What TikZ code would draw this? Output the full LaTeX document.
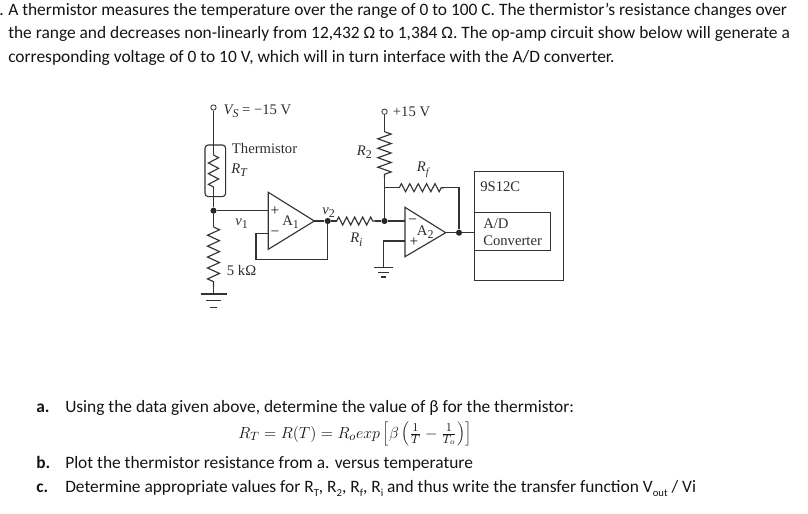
\documentclass[tikz,border=0pt]{standalone}
\usepackage{fontspec}
\setmainfont{Carlito}
\newfontfamily\circfont{Liberation Serif}
\usetikzlibrary{decorations.pathmorphing}
\newcommand{\tsub}[1]{\raisebox{-0.25em}{\fontsize{8}{9}\selectfont #1}}
\newcommand{\csub}[1]{\raisebox{-0.25em}{\fontsize{9}{10}\selectfont #1}}
\tikzset{
  x=0.75pt,y=-0.75pt,
  wire/.style={draw=black!80,line width=0.85pt},
  res/.style n args={2}{wire,decorate,decoration={zigzag,segment length=#1,amplitude=#2}},
  dot/.style={circle,fill=black!85,inner sep=0pt,minimum size=4.6pt},
  term/.style={circle,draw=black!78,fill=white,line width=0.6pt,inner sep=0pt,minimum size=4pt},
  para/.style={anchor=base west,inner sep=0pt,text=black!92,font=\fontsize{13.05}{15}\selectfont},
  lab/.style={anchor=base west,inner sep=0pt,text=black!82,font=\circfont\fontsize{11}{13}\selectfont},
  sgn/.style={inner sep=0pt,text=black!90,font=\circfont\fontsize{11.5}{12}\selectfont},
  box/.style={wire,rectangle,inner sep=0pt},
}
\begin{document}
\begin{tikzpicture}
\useasboundingbox (0,0) rectangle (808,514);
% paragraph
\node[para] (dotmark) at (-1,16) {.};
\node[para] (p1) at (8,16) {A thermistor measures the temperature over the range of 0 to 100 C. The thermistor’s resistance changes over};
\node[para] (p2) at (8,38.5) {the range and decreases non-linearly from 12,432 Ω to 1,384 Ω. The op-amp circuit show below will generate a};
\node[para] (p3) at (8,62) {corresponding voltage of 0 to 10 V, which will in turn interface with the A/D converter.};
% left column coordinates
\node[term] (vs) at (213.5,107.5) {};
\coordinate (rttop) at (213.5,155);
\coordinate (rtbot) at (213.5,188);
\node[dot] (n1) at (213.5,210.7) {};
\coordinate (r5top) at (213.5,227);
\coordinate (r5bot) at (213.5,287);
\coordinate (g1) at (213.5,294);
\node[box,rounded corners=2.5pt,minimum width=15.5pt,minimum height=38.8pt] (thbox) at (215.3,170.8) {};
\draw[wire] (vs) -- (rttop);
\draw[res={8pt}{3.8pt}] (rttop) -- (rtbot);
\draw[wire] (rtbot) -- (n1);
\draw[wire] (n1) -- (r5top);
\draw[res={8.2pt}{4.5pt}] (r5top) -- (r5bot);
\draw[wire] (r5bot) -- (g1);
\draw[wire] (200.7,294) -- (226.7,294) (206,300.7) -- (221,300.7) (210,307.3) -- (217,307.3);
% A1
\coordinate (a1t) at (268.3,192.3);
\coordinate (a1b) at (268.3,249.3);
\coordinate (a1o) at (314.3,221);
\coordinate (a1p) at (268.3,210.7);
\coordinate (a1m) at (268.3,233.3);
\node[dot] (n2) at (327.7,221) {};
\coordinate (fb1) at (256,233.3);
\coordinate (fb2) at (256,259.3);
\coordinate (fb3) at (327.7,259.3);
\draw[wire] (a1t) -- (a1o) -- (a1b) -- cycle;
\draw[wire] (n1) -- (a1p);
\draw[wire] (a1o) -- (n2);
\draw[wire] (a1m) -- (fb1) -- (fb2) -- (fb3) -- (n2);
% Ri
\coordinate (ril) at (336.7,221);
\coordinate (rir) at (375,221);
\node[dot] (n3) at (384.5,221) {};
\draw[wire] (n2) -- (ril);
\draw[res={6pt}{3pt}] (ril) -- (rir);
\draw[wire] (rir) -- (n3);
% R2
\node[term] (v15) at (384.5,111.7) {};
\coordinate (r2t) at (384.5,131.7);
\coordinate (r2b) at (384.5,178);
\coordinate (rfj) at (384.5,187.7);
\draw[wire] (v15) -- (r2t);
\draw[res={7.1pt}{5pt}] (r2t) -- (r2b);
\draw[wire] (r2b) -- (rfj) -- (n3);
% Rf
\coordinate (rfl) at (399.3,187.7);
\coordinate (rfr) at (444,187.7);
\coordinate (rfc) at (459,187.7);
\node[dot] (n4) at (459,232.7) {};
\draw[wire] (rfj) -- (rfl);
\draw[res={6.3pt}{3pt}] (rfl) -- (rfr);
\draw[wire] (rfr) -- (rfc) -- (n4);
% A2
\coordinate (a2t) at (405,207.3);
\coordinate (a2b) at (405,256.7);
\coordinate (a2o) at (445.7,232.7);
\coordinate (a2m) at (405,221);
\coordinate (a2p) at (405,241);
\coordinate (g2c) at (383.3,241);
\coordinate (g2) at (383.3,267.7);
\draw[wire] (a2t) -- (a2o) -- (a2b) -- cycle;
\draw[wire] (n3) -- (a2m);
\draw[wire] (a2p) -- (g2c) -- (g2);
\draw[wire] (374,267.7) -- (392.7,267.7) (378,272.5) -- (389,272.5) (381,277) -- (386,277);
% boxes
\node[box,minimum width=66.75pt,minimum height=81.75pt] (mcu) at (518.8,226.2) {};
\node[box,minimum width=57.3pt,minimum height=28pt] (adc) at (512.5,231.4) {};
\draw[wire] (a2o) -- (n4) -- (adc.west |- n4);
% labels
\node[lab] (lvs) at (223.3,114) {\textit{V\csub{S}} = −15 V};
\node[lab] (lth) at (231.7,153.3) {Thermistor};
\node[lab] (lrt) at (231,173) {\textit{R\csub{T}}};
\node[lab] (lv1) at (235,225) {\textit{v}\csub{1}};
\node[lab] (la1) at (282,225) {A\csub{1}};
\node[sgn] (sp1) at (275,210.7) {+};
\node[sgn] (sm1) at (275,233.5) {−};
\node[lab] (lv2) at (322,214) {\textit{v}\csub{2}};
\node[lab] (lri) at (350,242.7) {\textit{R\csub{i}}};
\node[lab] (l5k) at (226.7,275) {5 kΩ};
\node[lab] (lr2) at (356.7,155) {\textit{R}\csub{2}};
\node[lab] (l15) at (392.7,116) {+15 V};
\node[lab] (lrf) at (416.7,171.7) {\textit{R\tsub{f}}};
\node[lab] (l9s) at (480,191) {9S12C};
\node[lab] (lad) at (483,228.3) {A/D};
\node[lab] (lco) at (483,245) {Converter};
\node[lab] (la2) at (416.7,235) {A\csub{2}};
\node[sgn] (sm2) at (412.7,221.5) {−};
\node[sgn] (sp2) at (414,241.7) {+};
% questions
\node[para,font=\bfseries\fontsize{13.05}{15}\selectfont] (qa) at (36,412) {a.};
\node[para] (qat) at (65,412) {Using the data given above, determine the value of β for the thermistor:};
\node[para,font=\fontsize{12.8}{14}\selectfont] (qf) at (238,438) {$R_T = R(T) = R_o exp\,\Big[\beta\,\Big(\frac{1}{T}-\frac{1}{T_o}\Big)\Big]$};
\node[para,font=\bfseries\fontsize{13.05}{15}\selectfont] (qb) at (36,468.5) {b.};
\node[para] (qbt) at (65,468.5) {Plot the thermistor resistance from a. versus temperature};
\node[para,font=\bfseries\fontsize{13.05}{15}\selectfont] (qc) at (36,492) {c.};
\node[para] (qct) at (65,492) {Determine appropriate values for R\tsub{T}, R\tsub{2}, R\tsub{f}, R\tsub{i} and thus write the transfer function V\tsub{out} / Vi};
\end{tikzpicture}
\end{document}
